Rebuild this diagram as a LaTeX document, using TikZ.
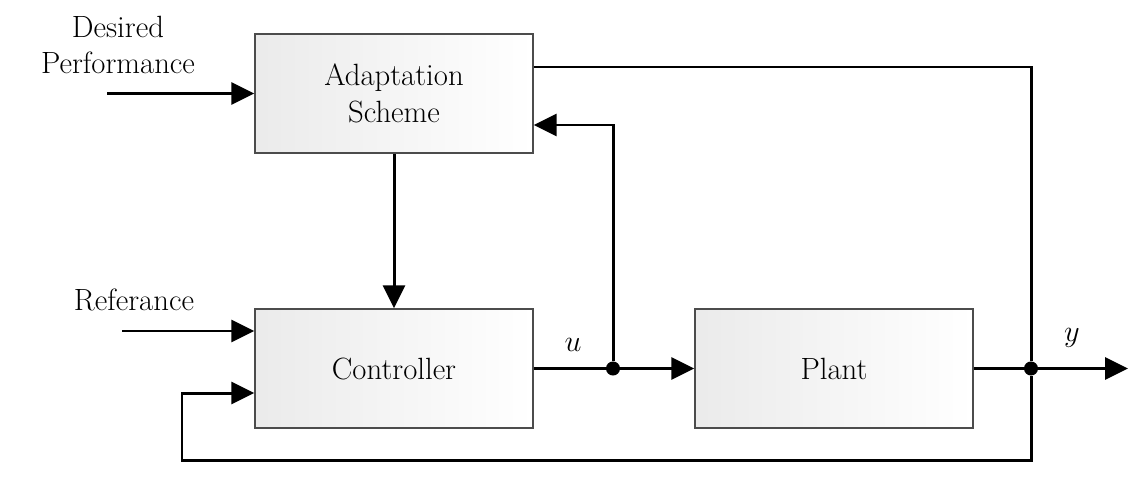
\documentclass[tikz,border=0pt]{standalone}
\usetikzlibrary{arrows.meta}
\begin{document}
\begin{tikzpicture}[x=0.02cm, y=-0.02cm,
    block/.style={draw=gray!60!black, line width=0.9pt, left color=gray!16, right color=white,
        minimum width=5.56cm, minimum height=2.38cm, align=center, font=\fontsize{17.5}{21}\selectfont},
    sig/.style={line width=1.7pt, -{Triangle[length=13pt,width=12.5pt]}},
    wire/.style={line width=1.7pt},
    dot/.style={circle, fill, inner sep=0pt, minimum size=8pt},
    lbl/.style={font=\fontsize{17.5}{21}\selectfont, align=center}]
    \useasboundingbox (0,0) rectangle (1138,490);

    % Draw the blocks
    \node[block] (adapt) at (394, 93.5) {Adaptation\\Scheme};
    \node[block] (ctrl) at (394, 368.5) {Controller};
    \node[block] (plant) at (834, 368.5) {Plant};

    % Draw junctions and free ends
    \node[dot] (ju) at (613, 368.5) {};
    \node[dot] (jy) at (1031, 368.5) {};
    \coordinate (dpin) at (107, 93.5);
    \coordinate (refin) at (122, 331);
    \coordinate (fbu) at (613, 125);
    \coordinate (topy) at (1031, 67);
    \coordinate (yout) at (1128, 368.5);
    \coordinate (fbr) at (1031, 460);
    \coordinate (fbl) at (182, 460);
    \coordinate (fbc) at (182, 393);

    % Draw the labels
    \node[lbl] (dptext) at (118, 45) {Desired\\Performance};
    \node[lbl] (reftext) at (134, 300) {Referance};
    \node[lbl] (ulabel) at (573, 345) {$u$};
    \node[lbl] (ylabel) at (1072, 338) {$y$};

    % Draw the signals
    \draw[sig] (dpin) -- (adapt.west);
    \draw[sig] (refin) -- (ctrl.west |- refin);
    \draw[sig] (adapt.south) -- (ctrl.north);
    \draw[wire] (ctrl.east) -- (ju);
    \draw[sig] (ju) -- (plant.west);
    \draw[sig] (ju) -- (fbu) -- (adapt.east |- fbu);
    \draw[wire] (adapt.east |- topy) -- (topy) -- (jy);
    \draw[wire] (plant.east) -- (jy);
    \draw[sig] (jy) -- (yout);
    \draw[sig] (jy) -- (fbr) -- (fbl) -- (fbc) -- (ctrl.west |- fbc);
\end{tikzpicture}
\end{document}
